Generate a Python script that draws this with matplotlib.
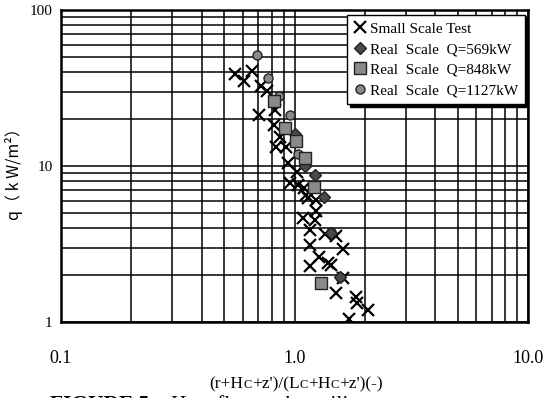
import matplotlib
matplotlib.use("Agg")
import matplotlib.pyplot as plt
from matplotlib.ticker import LogLocator, FixedLocator, NullFormatter
from matplotlib.offsetbox import TextArea, HPacker, AnchoredOffsetbox

# ---- data ----
small_x = [0.556, 0.610, 0.658, 0.719, 0.766, 0.708, 0.829, 0.821, 0.868, 0.835,
           0.921, 0.936, 1.023, 0.952, 1.04, 1.12, 1.10, 1.14, 1.24, 1.24, 1.22,
           1.086, 1.16, 1.345, 1.50, 1.17, 1.62, 1.27, 1.17, 1.39, 1.44, 1.62,
           1.50, 1.83, 1.86, 2.06, 1.71]
small_y = [38.9, 35.1, 40.6, 32.7, 30.1, 21.2, 22.9, 18.3, 15.4, 13.3,
           13.3, 10.4, 9.2, 7.74, 7.55, 6.52, 7.2, 6.21, 6.05, 5.15, 4.51,
           4.62, 3.89, 3.66, 3.56, 3.12, 2.92, 2.62, 2.30, 2.38, 2.32, 1.92,
           1.53, 1.45, 1.33, 1.19, 1.04]

q569_x = [1.00, 1.11, 1.22, 1.336, 1.437, 1.57]
q569_y = [16.0, 10.0, 8.75, 6.36, 3.74, 1.95]

q848_x = [0.821, 0.915, 1.017, 1.11, 1.21, 1.30]
q848_y = [26.2, 17.6, 14.5, 11.3, 7.37, 1.79]

q1127_x = [0.691, 0.773, 0.862, 0.952, 1.04, 1.43, 1.56]
q1127_y = [51.5, 36.6, 28.2, 21.1, 11.9, 3.75, 1.95]

labels = ["Small Scale Test", "Real  Scale  Q=569kW",
          "Real  Scale  Q=848kW", "Real  Scale  Q=1127kW"]
xticks = [0.1, 1.0, 10.0]
xticklabels = ["0.1", "1.0", "10.0"]
yticks = [1, 10, 100]
yticklabels = ["1", "10", "100"]

SERIF = "Liberation Serif"
SANS = "Liberation Sans"

W, H = 546, 398
fig = plt.figure(figsize=(W / 100, H / 100), dpi=100)
ax = fig.add_axes([61 / W, 1 - 322 / H, (528 - 61) / W, (322 - 10) / H])
ax.set_xscale("log")
ax.set_yscale("log")
ax.set_xlim(0.1, 10)
ax.set_ylim(1, 100)

# grid
ax.xaxis.set_major_locator(FixedLocator(xticks))
ax.yaxis.set_major_locator(FixedLocator(yticks))
ax.xaxis.set_minor_locator(LogLocator(base=10, subs=range(2, 10)))
ax.yaxis.set_minor_locator(LogLocator(base=10, subs=range(2, 10)))
ax.xaxis.set_minor_formatter(NullFormatter())
ax.yaxis.set_minor_formatter(NullFormatter())
ax.grid(True, which="both", color="black", linewidth=1.1)
ax.set_axisbelow(True)
for s in ax.spines.values():
    s.set_linewidth(1.8)
    s.set_color("black")

ax.set_xticks(xticks)
ax.set_xticklabels(xticklabels, fontfamily=SERIF, fontsize=13)
ax.set_yticks(yticks)
ax.set_yticklabels(yticklabels, fontfamily=SERIF, fontsize=11)
ax.tick_params(axis="x", which="major", length=0, pad=20)
ax.tick_params(axis="y", which="major", length=0, pad=6)
ax.tick_params(which="minor", length=0)

# data
l1, = ax.plot(small_x, small_y, linestyle="none", marker="x", ms=9, mew=1.6,
              color="black", zorder=3)
l4, = ax.plot(q1127_x, q1127_y, linestyle="none", marker="o", ms=6.5,
              mfc="#8a8a8a", mec="#222222", mew=1.0, zorder=4)
l2, = ax.plot(q569_x, q569_y, linestyle="none", marker="D", ms=6.5,
              mfc="#4a4a4a", mec="#222222", mew=1.0, zorder=5)
l3, = ax.plot(q848_x, q848_y, linestyle="none", marker="s", ms=8,
              mfc="#8a8a8a", mec="#222222", mew=1.0, zorder=6)

leg = ax.legend([l1, l2, l3, l4], labels, loc="upper right",
                bbox_to_anchor=(0.994, 0.984), borderaxespad=0,
                prop={"family": SERIF, "size": 11}, frameon=True,
                fancybox=False, framealpha=1, edgecolor="black",
                handlelength=0.8, handletextpad=0.25, labelspacing=0.45,
                borderpad=0.45, shadow={"color": "black", "alpha": 1},
                markerscale=1.0)
leg.get_frame().set_linewidth(1.0)
leg.set_zorder(10)

# y label
fig.text(14 / W, 1 - 170 / H, "q（ k W/m²）", rotation=90, ha="center",
         va="center", fontfamily=["Noto Sans CJK JP", SANS], fontsize=11.5)

# x label with small-cap C
parts = [("(r+H", 12.5), ("C", 9), ("+z')/(L", 12.5), ("C", 9), ("+H", 12.5),
         ("C", 9), ("+z')(-)", 12.5)]
areas = [TextArea(t, textprops=dict(family=SERIF, size=s)) for t, s in parts]
box = HPacker(children=areas, align="baseline", pad=0, sep=0)
anch = AnchoredOffsetbox(loc="center", child=box, pad=0, frameon=False,
                         bbox_to_anchor=(296 / W, 1 - 384 / H),
                         bbox_transform=fig.transFigure, borderpad=0)
fig.add_artist(anch)

# caption (partially cut off at bottom, as in the reference)
cap = [("FIGURE 5.", "bold"), ("   Heat flux to the ceiling", "normal")]
careas = [TextArea(t, textprops=dict(family=SERIF, size=15.5, weight=w))
          for t, w in cap]
cbox = HPacker(children=careas, align="baseline", pad=0, sep=0)
canch = AnchoredOffsetbox(loc="upper left", child=cbox, pad=0, frameon=False,
                          bbox_to_anchor=(50 / W, 1 - 395 / H),
                          bbox_transform=fig.transFigure, borderpad=0)
fig.add_artist(canch)

fig.savefig("out.png", dpi=100)
